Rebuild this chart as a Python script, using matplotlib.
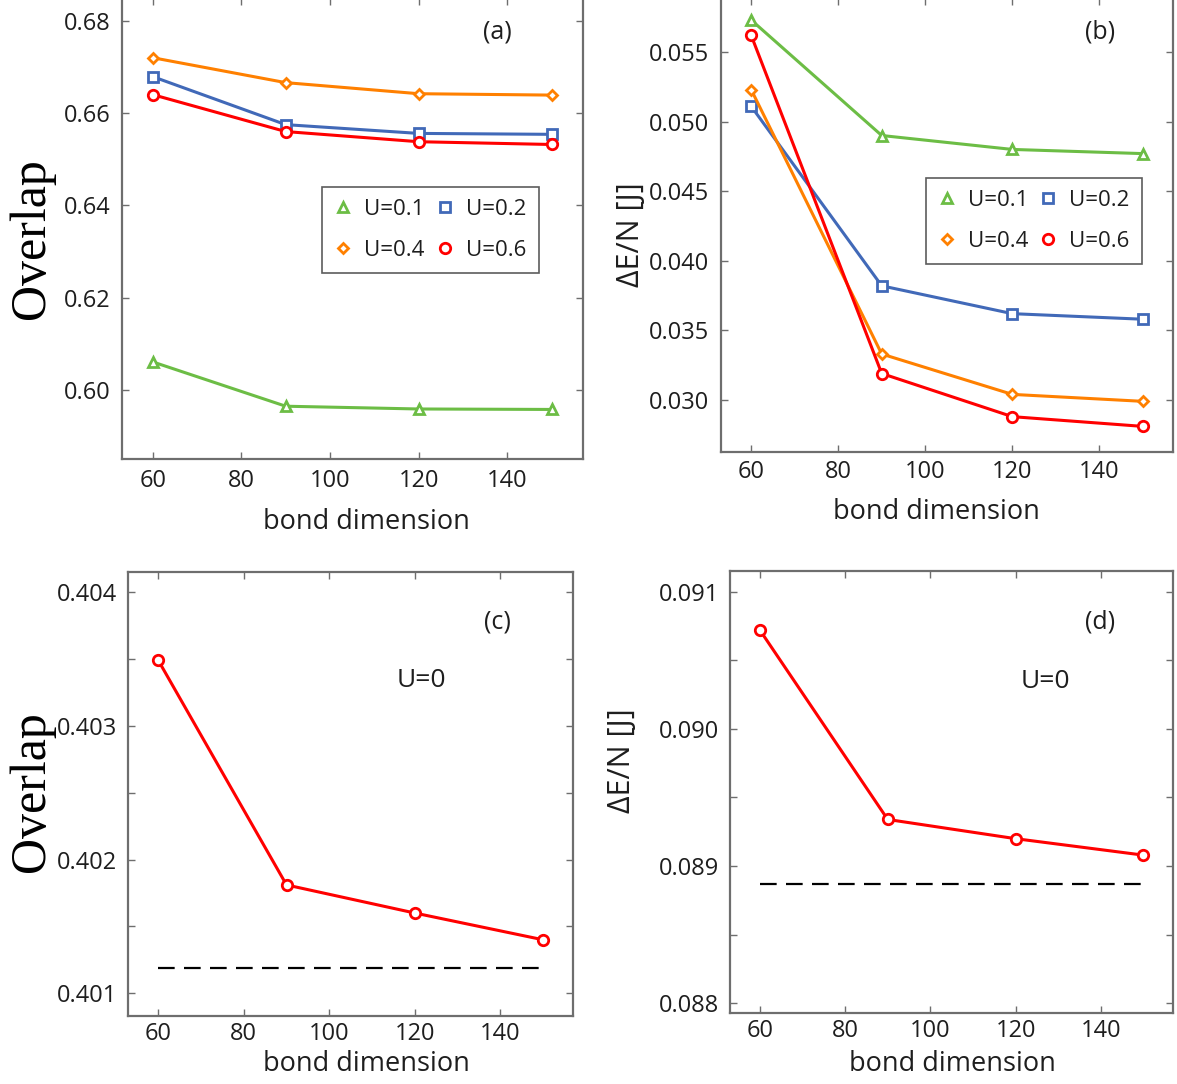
import matplotlib
matplotlib.use("Agg")
import matplotlib.pyplot as plt
from matplotlib.ticker import MultipleLocator, FuncFormatter

# ---------------- data ----------------
bond_dim = [60, 90, 120, 150]

overlap_u01 = [0.6061, 0.5965, 0.5959, 0.5958]
overlap_u02 = [0.6679, 0.6575, 0.6556, 0.6554]
overlap_u04 = [0.6720, 0.6666, 0.6642, 0.6639]
overlap_u06 = [0.6640, 0.6560, 0.6538, 0.6532]

de_u01 = [0.0573, 0.0490, 0.0480, 0.0477]
de_u02 = [0.0511, 0.0382, 0.0362, 0.0358]
de_u04 = [0.0523, 0.0333, 0.0304, 0.0299]
de_u06 = [0.0562, 0.0319, 0.0288, 0.0281]

overlap_u0 = [0.40349, 0.40181, 0.40160, 0.40140]
overlap_u0_exact = 0.40119
de_u0 = [0.09072, 0.08934, 0.08920, 0.08908]
de_u0_exact = 0.08887

labels = ["U=0.1", "U=0.2", "U=0.4", "U=0.6"]

# ---------------- style ----------------
SANS = ["Open Sans", "DejaVu Sans"]
SERIF = ["Liberation Serif", "DejaVu Serif"]
plt.rcParams["font.family"] = SANS
TICK_FS = 17
LABEL_FS = 19
GRAY = "#6e6e6e"
TXT = "#1e1e1e"

colors = {"U=0.1": "#6cbd45", "U=0.2": "#4169b8", "U=0.4": "#ff8000", "U=0.6": "#ff0000"}
markers = {"U=0.1": "^", "U=0.2": "s", "U=0.4": "D", "U=0.6": "o"}
msizes = {"U=0.1": 7, "U=0.2": 7.5, "U=0.4": 5.5, "U=0.6": 7.5}

W, H = 1177, 1084
fig = plt.figure(figsize=(W / 100, H / 100), dpi=100)


def px_axes(l, r, t, b):
    return fig.add_axes([l / W, 1 - b / H, (r - l) / W, (b - t) / H])


def style(ax, xpad):
    for s in ax.spines.values():
        s.set_color(GRAY)
        s.set_linewidth(1.6)
    ax.tick_params(which="both", direction="in", top=True, right=True,
                   length=5, width=1.0, color=GRAY, labelsize=TICK_FS,
                   labelcolor=TXT, pad=8)
    ax.tick_params(axis="x", pad=xpad)
    ax.xaxis.set_major_locator(MultipleLocator(20))
    ax.set_xlim(53, 157)


axA = px_axes(121.7, 582.7, -2.3, 459.3)
axB = px_axes(720.7, 1173.3, -2, 452)
axC = px_axes(128.3, 573, 572, 1016)
axD = px_axes(730, 1173.3, 571, 1013)

# ---------- (a), (b) ----------
series_a = {"U=0.1": overlap_u01, "U=0.2": overlap_u02, "U=0.4": overlap_u04, "U=0.6": overlap_u06}
series_b = {"U=0.1": de_u01, "U=0.2": de_u02, "U=0.4": de_u04, "U=0.6": de_u06}

for ax, series in ((axA, series_a), (axB, series_b)):
    handles = {}
    for lab in labels:
        h, = ax.plot(bond_dim, series[lab], color=colors[lab], lw=2.2,
                     marker=markers[lab], ms=msizes[lab], mfc="white",
                     mec=colors[lab], mew=2.0, label=lab)
        handles[lab] = h
    order = ["U=0.1", "U=0.4", "U=0.2", "U=0.6"]
    style(ax, 7 if ax is axA else 6)
    anchor = (0.435, 0.590) if ax is axA else (0.4525, 0.6035)
    leg = ax.legend([handles[k] for k in order], order, ncol=2, loc="upper left",
                    bbox_to_anchor=anchor, borderaxespad=0, frameon=True,
                    fancybox=False, edgecolor="#333333", fontsize=16,
                    handlelength=0.8, handletextpad=0.55, columnspacing=0.5,
                    labelspacing=0.9, borderpad=0.55, numpoints=1,
                    markerscale=1.0)
    leg.get_frame().set_linewidth(1.2)
    for t in leg.get_texts():
        t.set_color(TXT)
    for lh in leg.legend_handles:
        lh.set_linestyle("none")

axA.set_ylim(0.585, 0.685)
axA.yaxis.set_major_locator(MultipleLocator(0.02))
axA.yaxis.set_major_formatter(FuncFormatter(lambda v, p: f"{v:.2f}"))

axB.set_ylim(0.02626, 0.05888)
axB.yaxis.set_major_locator(MultipleLocator(0.005))
axB.yaxis.set_major_formatter(FuncFormatter(lambda v, p: f"{v:.3f}"))

# ---------- (c) ----------
axC.plot(bond_dim, overlap_u0, color="#ff0000", lw=2.2, marker="o", ms=7.5,
         mfc="white", mec="#ff0000", mew=2.0)
axC.plot([bond_dim[0], bond_dim[-1]], [overlap_u0_exact] * 2, color="black",
         lw=1.6, ls=(0, (7.5, 4.2)))
style(axC, 4)
axC.set_ylim(0.40083, 0.40415)
axC.yaxis.set_major_locator(MultipleLocator(0.001))
axC.yaxis.set_minor_locator(MultipleLocator(0.0005))
axC.yaxis.set_major_formatter(FuncFormatter(lambda v, p: f"{v:.3f}"))
axC.tick_params(which="minor", length=5)

# ---------- (d) ----------
axD.plot(bond_dim, de_u0, color="#ff0000", lw=2.2, marker="o", ms=7.5,
         mfc="white", mec="#ff0000", mew=2.0)
axD.plot([bond_dim[0], bond_dim[-1]], [de_u0_exact] * 2, color="black",
         lw=1.6, ls=(0, (7.5, 4.2)))
style(axD, 4)
axD.set_ylim(0.08793, 0.09115)
axD.yaxis.set_major_locator(MultipleLocator(0.001))
axD.yaxis.set_minor_locator(MultipleLocator(0.0005))
axD.yaxis.set_major_formatter(FuncFormatter(lambda v, p: f"{v:.3f}"))
axD.tick_params(which="minor", length=5)

# ---------- labels ----------
xl = {axA: (0.530, -0.136), axB: (0.477, -0.132), axC: (0.536, -0.108), axD: (0.501, -0.115)}
for ax, (x, y) in xl.items():
    ax.set_xlabel("bond dimension", fontsize=19.5, color=TXT, va="center")
    ax.xaxis.set_label_coords(x, y)

axA.set_ylabel("Overlap", family=SERIF, fontsize=36, color="black", va="center")
axA.yaxis.set_label_coords(-0.196, 0.478)
axC.set_ylabel("Overlap", family=SERIF, fontsize=36, color="black", va="center")
axC.yaxis.set_label_coords(-0.216, 0.505)
axB.set_ylabel("ΔE/N [J]", fontsize=22, color=TXT, va="center")
axB.yaxis.set_label_coords(-0.199, 0.478)
axD.set_ylabel("ΔE/N [J]", fontsize=22, color=TXT, va="center")
axD.yaxis.set_label_coords(-0.244, 0.572)

for ax, txt, x, y in ((axA, "(a)", 0.815, 0.925), (axB, "(b)", 0.839, 0.925),
                      (axC, "(c)", 0.831, 0.887), (axD, "(d)", 0.835, 0.885)):
    ax.text(x, y, txt, transform=ax.transAxes, ha="center", va="center",
            fontsize=LABEL_FS - 1, color=TXT)

axC.text(0.660, 0.755, "U=0", transform=axC.transAxes, ha="center", va="center",
         fontsize=LABEL_FS, color=TXT)
axD.text(0.711, 0.751, "U=0", transform=axD.transAxes, ha="center", va="center",
         fontsize=LABEL_FS, color=TXT)

fig.savefig("out.png", dpi=100)
